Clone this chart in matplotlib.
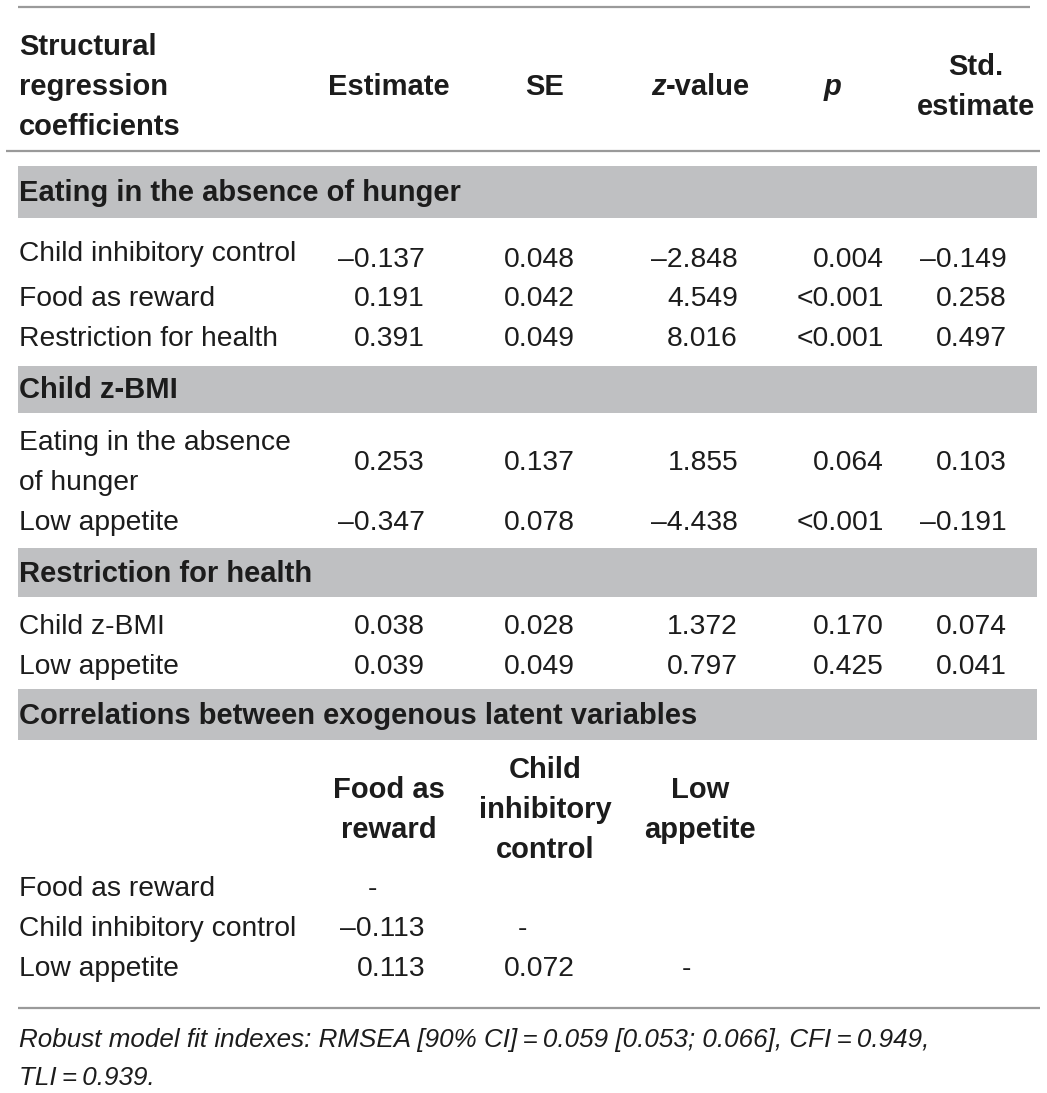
import matplotlib
matplotlib.use("Agg")
import matplotlib.pyplot as plt
from matplotlib.patches import Rectangle

# ---------------- data ----------------
header_first = ["Structural", "regression", "coefficients"]
col_headers = ["Estimate", "SE", "z-value", "p", "Std.\nestimate"]

section_titles = ["Eating in the absence of hunger", "Child z-BMI",
                  "Restriction for health",
                  "Correlations between exogenous latent variables"]

eah_labels = ["Child inhibitory control", "Food as reward", "Restriction for health"]
eah_values = [["\u20130.137", "0.048", "\u20132.848", "0.004", "\u20130.149"],
              ["0.191", "0.042", "4.549", "<0.001", "0.258"],
              ["0.391", "0.049", "8.016", "<0.001", "0.497"]]

bmi_labels = ["Eating in the absence\nof hunger", "Low appetite"]
bmi_values = [["0.253", "0.137", "1.855", "0.064", "0.103"],
              ["\u20130.347", "0.078", "\u20134.438", "<0.001", "\u20130.191"]]

rfh_labels = ["Child z-BMI", "Low appetite"]
rfh_values = [["0.038", "0.028", "1.372", "0.170", "0.074"],
              ["0.039", "0.049", "0.797", "0.425", "0.041"]]

corr_headers = ["Food as\nreward", "Child\ninhibitory\ncontrol", "Low\nappetite"]
corr_labels = ["Food as reward", "Child inhibitory control", "Low appetite"]
corr_values = [["-", "", ""],
               ["\u20130.113", "-", ""],
               ["0.113", "0.072", "-"]]

footnote = ("Robust model fit indexes: RMSEA [90% CI]\u2009=\u20090.059 [0.053; 0.066], CFI\u2009=\u20090.949,\n"
            "TLI\u2009=\u20090.939.")

# ---------------- drawing ----------------
W, H = 1047, 1093
fig = plt.figure(figsize=(W / 100, H / 100), dpi=100)
ax = fig.add_axes([0, 0, 1, 1])
ax.set_xlim(0, W)
ax.set_ylim(H, 0)
ax.axis("off")

FONT = ["Liberation Sans", "DejaVu Sans"]
FS = 20.3
FSB = 21.0
FSN = 18.7
TXT = "#1c1c1c"
LINE = "#9a9a9a"
BAND = "#bfc0c2"

def t(x, y, s, ha="left", bold=False, italic=False, va="center", fs=None, ls=1.66, **kw):
    if fs is None:
        fs = FSB if bold else FS
    ax.text(x, y, s, ha=ha, va=va, fontsize=fs, family=FONT, color=TXT,
            fontweight="bold" if bold else "normal",
            fontstyle="italic" if italic else "normal",
            linespacing=ls, **kw)

# rules
ax.plot([18, 1030], [7, 7], color=LINE, lw=1.6, solid_capstyle="butt")
ax.plot([6, 1040], [151, 151], color=LINE, lw=1.6, solid_capstyle="butt")
ax.plot([18, 1040], [1008, 1008], color=LINE, lw=1.6, solid_capstyle="butt")

# header
t(19, 87, "\n".join(header_first), bold=True, ls=1.56)
hdr_x = [389, 545, 699, 833, 976]
for x, h in zip(hdr_x, col_headers):
    if h == "z-value":
        t(666, 87, "z", bold=True, italic=True, ha="right")
        t(666, 87, "-value", bold=True, ha="left")
    elif h == "p":
        t(x, 87, "p", bold=True, italic=True, ha="center")
    else:
        t(x, 87, h, bold=True, ha="center", multialignment="center", ls=1.56)

# section bands
bands = [(166, 218), (366, 413), (548, 597), (689, 740)]
for (y0, y1), title in zip(bands, section_titles):
    ax.add_patch(Rectangle((18, y0), 1037 - 18, y1 - y0, facecolor=BAND, edgecolor="none"))
    t(19, (y0 + y1) / 2 + 1, title, bold=True)

val_x = [425, 575, 738, 884, 1007]

def rows(labels, values, label_y, value_y):
    for lab, vals, ly, vy in zip(labels, values, label_y, value_y):
        t(19, ly, lab)
        for x, v in zip(val_x, vals):
            t(x, vy, v, ha="right")

rows(eah_labels, eah_values, [254, 299, 339], [260, 299, 339])
rows(bmi_labels, bmi_values, [463, 523], [463, 523])
rows(rfh_labels, rfh_values, [627, 667], [627, 667])

# correlation sub-table
corr_hx = [389, 545, 700]
for x, h in zip(corr_hx, corr_headers):
    t(x, 810, h, bold=True, ha="center", multialignment="center", ls=1.56)
corr_vx = [425, 575, 700]
dash_x = [372, 522, 686]
for lab, vals, y in zip(corr_labels, corr_values, [889, 929, 969]):
    t(19, y, lab)
    for i, v in enumerate(vals):
        if v == "-":
            t(dash_x[i], y, v, ha="center")
        elif v:
            t(corr_vx[i], y, v, ha="right")

t(19, 1059, footnote, italic=True, fs=FSN, ls=1.72)

fig.savefig("out.png", dpi=100)
